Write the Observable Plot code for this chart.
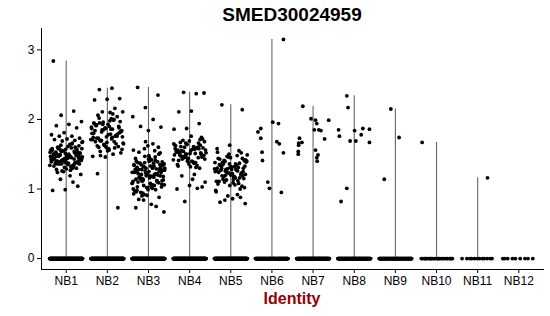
<!DOCTYPE html>
<html>
<head>
<meta charset="utf-8">
<script src="https://cdn.jsdelivr.net/npm/d3@7"></script>
<script src="https://cdn.jsdelivr.net/npm/@observablehq/plot@0.6"></script>
<style>
  body { margin: 0; background: #fff; font-family: "Liberation Sans", Arial, sans-serif; }
  #wrap { width: 550px; height: 316px; overflow: hidden; }
  #title { height: 26px; line-height: 30px; padding-left: 34px; text-align: center; font-weight: bold; font-size: 19px; color: #000; }
  #xlab { height: 25px; line-height: 16px; padding-left: 34px; text-align: center; font-weight: bold; font-size: 16px; color: #990000; }
  svg { display: block; }
</style>
</head>
<body>
<div id="wrap">
  <div id="title">SMED30024959</div>
  <div id="chart"></div>
  <div id="xlab">Identity</div>
</div>
<script>
// ---- data ----
const categories = ["NB1","NB2","NB3","NB4","NB5","NB6","NB7","NB8","NB9","NB10","NB11","NB12"];

// number of cells with zero expression in each identity
const zeroCounts = [200, 200, 200, 200, 200, 120, 150, 120, 100, 25, 12, 9];

// non-zero expression values (dense groups)
const NB1 = [2.84,2.12,2.06,1.97,1.93,1.91,1.88,1.81,1.78,1.76,1.76,1.73,1.72,1.71,1.70,1.69,1.68,1.19,1.24,1.04,0.99,0.98,1.10,1.14,1.21,
1.45,1.52,1.38,1.41,1.56,1.33,1.47,1.62,1.29,1.50,1.43,1.36,1.58,1.48,1.40,1.54,1.31,1.44,1.66,1.39,1.51,1.35,1.46,1.60,1.42,
1.53,1.27,1.49,1.37,1.57,1.44,1.34,1.63,1.41,1.50,1.47,1.30,1.55,1.39,1.45,1.59,1.36,1.48,1.43,1.52,1.26,1.46,1.64,1.40,1.51,
1.38,1.56,1.33,1.49,1.44,1.61,1.37,1.53,1.42,1.47,1.32,1.58,1.45,1.39,1.50,1.35,1.54,1.43,1.48,1.28,1.57,1.41,1.46,1.65,1.36,
1.52,1.44,1.49,1.38,1.55,1.34,1.47,1.60,1.40,1.51,1.42,1.31,1.56,1.45,1.37,1.53,1.48,1.25,1.43,1.59,1.39,1.50,1.46,1.33,1.54,
1.41,1.67,1.47,1.36,1.52,1.44,1.58,1.30,1.49,1.42];
const NB2 = [2.45,2.43,2.30,2.29,2.28,2.16,2.11,2.11,2.10,1.22,0.73,1.46,1.47,1.50,1.48,1.52,
1.78,1.92,1.65,1.85,1.71,2.01,1.60,1.88,1.75,1.95,1.68,1.82,1.57,1.90,1.73,2.04,1.63,1.80,1.86,1.70,1.97,1.55,1.84,1.76,1.93,1.66,1.79,2.06,1.61,1.87,
1.74,1.99,1.69,1.83,1.58,1.91,1.77,1.64,1.89,1.72,2.02,1.81,1.67,1.94,1.59,1.85,1.75,1.98,1.62,1.79,1.88,1.71,2.08,1.54,1.82,1.93,1.68,1.77,1.96,1.65,
1.86,1.73,1.90,1.60,1.80,2.00,1.70,1.84,1.56,1.92,1.76,1.63,1.87,1.74,1.95];
const NB3 = [2.46,2.35,2.17,2.04,2.00,1.90,1.89,1.84,0.73,0.75,0.84,0.67,0.78,0.85,0.88,
1.20,1.35,1.05,1.28,1.12,1.45,0.98,1.22,1.38,1.08,1.30,1.15,1.52,1.02,1.25,1.41,0.94,1.18,1.33,1.10,1.60,1.23,1.00,1.37,1.14,1.27,1.48,0.96,1.21,1.32,
1.06,1.42,1.17,1.29,0.91,1.24,1.55,1.11,1.34,1.19,1.03,1.39,1.26,1.09,1.65,1.16,1.31,0.99,1.44,1.22,1.13,1.36,1.04,1.28,1.50,1.19,0.93,1.33,1.21,1.07,
1.40,1.25,1.12,1.58,1.30,1.01,1.17,1.35,1.23,0.97,1.46,1.15,1.27,1.08,1.38,1.20,1.68,1.11,1.32,0.95,1.24,1.43,1.14,1.29,1.05,1.36,1.18,1.53,1.26,1.02,
1.34,1.21,0.90,1.39,1.16,1.31,1.10,1.47,1.24,1.06,1.37,1.19,1.62,1.28,0.99,1.33,1.13,1.42,1.22,1.09,1.30,1.56,1.17,1.35,1.03,1.25,1.40,1.12,0.92,1.27];
const NB4 = [2.37,2.39,2.38,2.12,2.11,1.94,1.87,1.86,1.21,1.19,1.03,1.05,1.00,1.01,0.82,1.10,1.14,
1.52,1.63,1.44,1.58,1.38,1.70,1.48,1.55,1.33,1.66,1.50,1.42,1.61,1.47,1.74,1.36,1.54,1.59,1.45,1.68,1.40,1.53,1.30,1.64,1.49,1.57,1.43,1.72,1.51,1.35,
1.60,1.46,1.56,1.39,1.67,1.52,1.44,1.62,1.31,1.54,1.48,1.76,1.41,1.58,1.50,1.65,1.37,1.55,1.46,1.69,1.53,1.34,1.60,1.43,1.57,1.49,1.71,1.40,1.63,1.51,
1.47,1.59,1.32,1.56,1.45,1.66,1.52,1.38,1.61,1.50];
const NB5 = [2.21,2.14,1.63,1.58,0.92,0.84,0.79,0.86,0.81,0.88,0.90,
1.25,1.36,1.14,1.30,1.20,1.44,1.08,1.28,1.39,1.17,1.33,1.23,1.50,1.11,1.27,1.41,1.02,1.22,1.35,1.16,1.47,1.29,1.06,1.38,1.19,1.31,1.53,1.12,1.26,1.42,
1.09,1.34,1.21,1.46,0.98,1.28,1.37,1.15,1.32,1.24,1.55,1.13,1.40,1.18,1.30,1.04,1.36,1.26,1.48,1.10,1.33,1.22,1.43,1.00,1.29,1.38,1.16,1.35,1.25,1.45,
1.07,1.31,1.20,1.39,1.14,1.27,1.52,1.23,0.96,1.34,1.18,1.41,1.28,1.11,1.37,1.24,1.49,1.32,1.19,1.44,1.05,1.30,1.26,1.40,1.21];

// sparse groups: non-zero values with the jitter offset (in category units)
const NB6 = [3.15,1.96,1.94,1.82,1.87,1.73,1.68,1.65,1.52,1.53,1.41,1.10,1.01,0.95];
const NB6jit = [0.28,0.02,0.16,-0.34,-0.27,-0.27,0.12,0.18,0.28,-0.24,-0.23,-0.10,-0.06,0.23];
const NB7 = [2.19,2.01,1.99,1.94,1.99,1.85,1.85,1.84,1.72,1.73,1.66,1.67,1.63,1.54,1.50,1.56,1.49,1.45,1.40];
const NB7jit = [-0.25,-0.05,0.06,0.09,0.38,0.03,0.14,0.19,0.28,-0.33,-0.35,-0.27,-0.35,-0.36,-0.36,0.06,0.12,0.09,0.10];
const NB8 = [2.34,2.17,1.85,1.76,1.84,1.69,1.69,1.87,1.78,1.86,1.67,1.01,0.82];
const NB8jit = [-0.18,-0.15,-0.38,-0.36,0.01,-0.10,0.04,0.21,0.17,0.37,0.37,-0.18,-0.32];
const NB9 = [2.15,1.74,1.14];
const NB9jit = [-0.11,0.09,-0.27];
const NB10 = [1.67];
const NB10jit = [-0.35];
const NB11 = [1.16];
const NB11jit = [0.24];
const NB12 = [];
const NB12jit = [];

// ---- build table ----
const dense = [NB1, NB2, NB3, NB4, NB5];
const sparse = [[NB6,NB6jit],[NB7,NB7jit],[NB8,NB8jit],[NB9,NB9jit],[NB10,NB10jit],[NB11,NB11jit],[NB12,NB12jit]];
const PHI = 0.6180339887;
const jit = (k, seed) => ((((k * PHI + seed) % 1) + 1) % 1 - 0.5) * 0.8; // deterministic, evenly spread jitter

const points = [];
categories.forEach((c, ci) => {
  const pos = ci + 1;
  for (let k = 0; k < zeroCounts[ci]; k++) points.push({cat: c, pos, x: pos + jit(k, ci * 0.37), v: 0});
  if (ci < 5) {
    dense[ci].forEach((v, k) => points.push({cat: c, pos, x: pos + jit(k, ci * 0.53 + 0.11), v}));
  } else {
    const [vals, offs] = sparse[ci - 5];
    vals.forEach((v, k) => points.push({cat: c, pos, x: pos + offs[k], v}));
  }
});
const violins = categories.map((c, ci) => ({
  pos: ci + 1,
  max: d3.max(points.filter(p => p.cat === c), p => p.v)
})).filter(d => d.max > 0);

const vmax = d3.max(points, p => p.v);
const yDomain = [0 - 0.05 * vmax, vmax * 1.05];

const chart = Plot.plot({
  width: 550,
  height: 265,
  marginLeft: 41,
  marginRight: 7,
  marginTop: 2,
  marginBottom: 22,
  style: {fontFamily: "Liberation Sans, Arial, sans-serif", fontSize: "12px", color: "#000", background: "#fff"},
  x: {type: "linear", domain: [0.4, categories.length + 0.6], ticks: d3.range(1, categories.length + 1),
      tickFormat: i => categories[i - 1], tickSize: 4, tickPadding: 3, line: true, label: null},
  y: {domain: yDomain, ticks: [0, 1, 2, 3], tickFormat: d3.format("d"), tickSize: 4, tickPadding: 3, line: true, label: null},
  marks: [
    Plot.ruleX(violins, {x: "pos", y1: 0, y2: "max", stroke: "#666", strokeWidth: 1.1}),
    Plot.dot(points, {x: "x", y: "v", r: 1.9, fill: "#000", stroke: "none"})
  ]
});
document.getElementById("chart").appendChild(chart);
</script>
</body>
</html>
